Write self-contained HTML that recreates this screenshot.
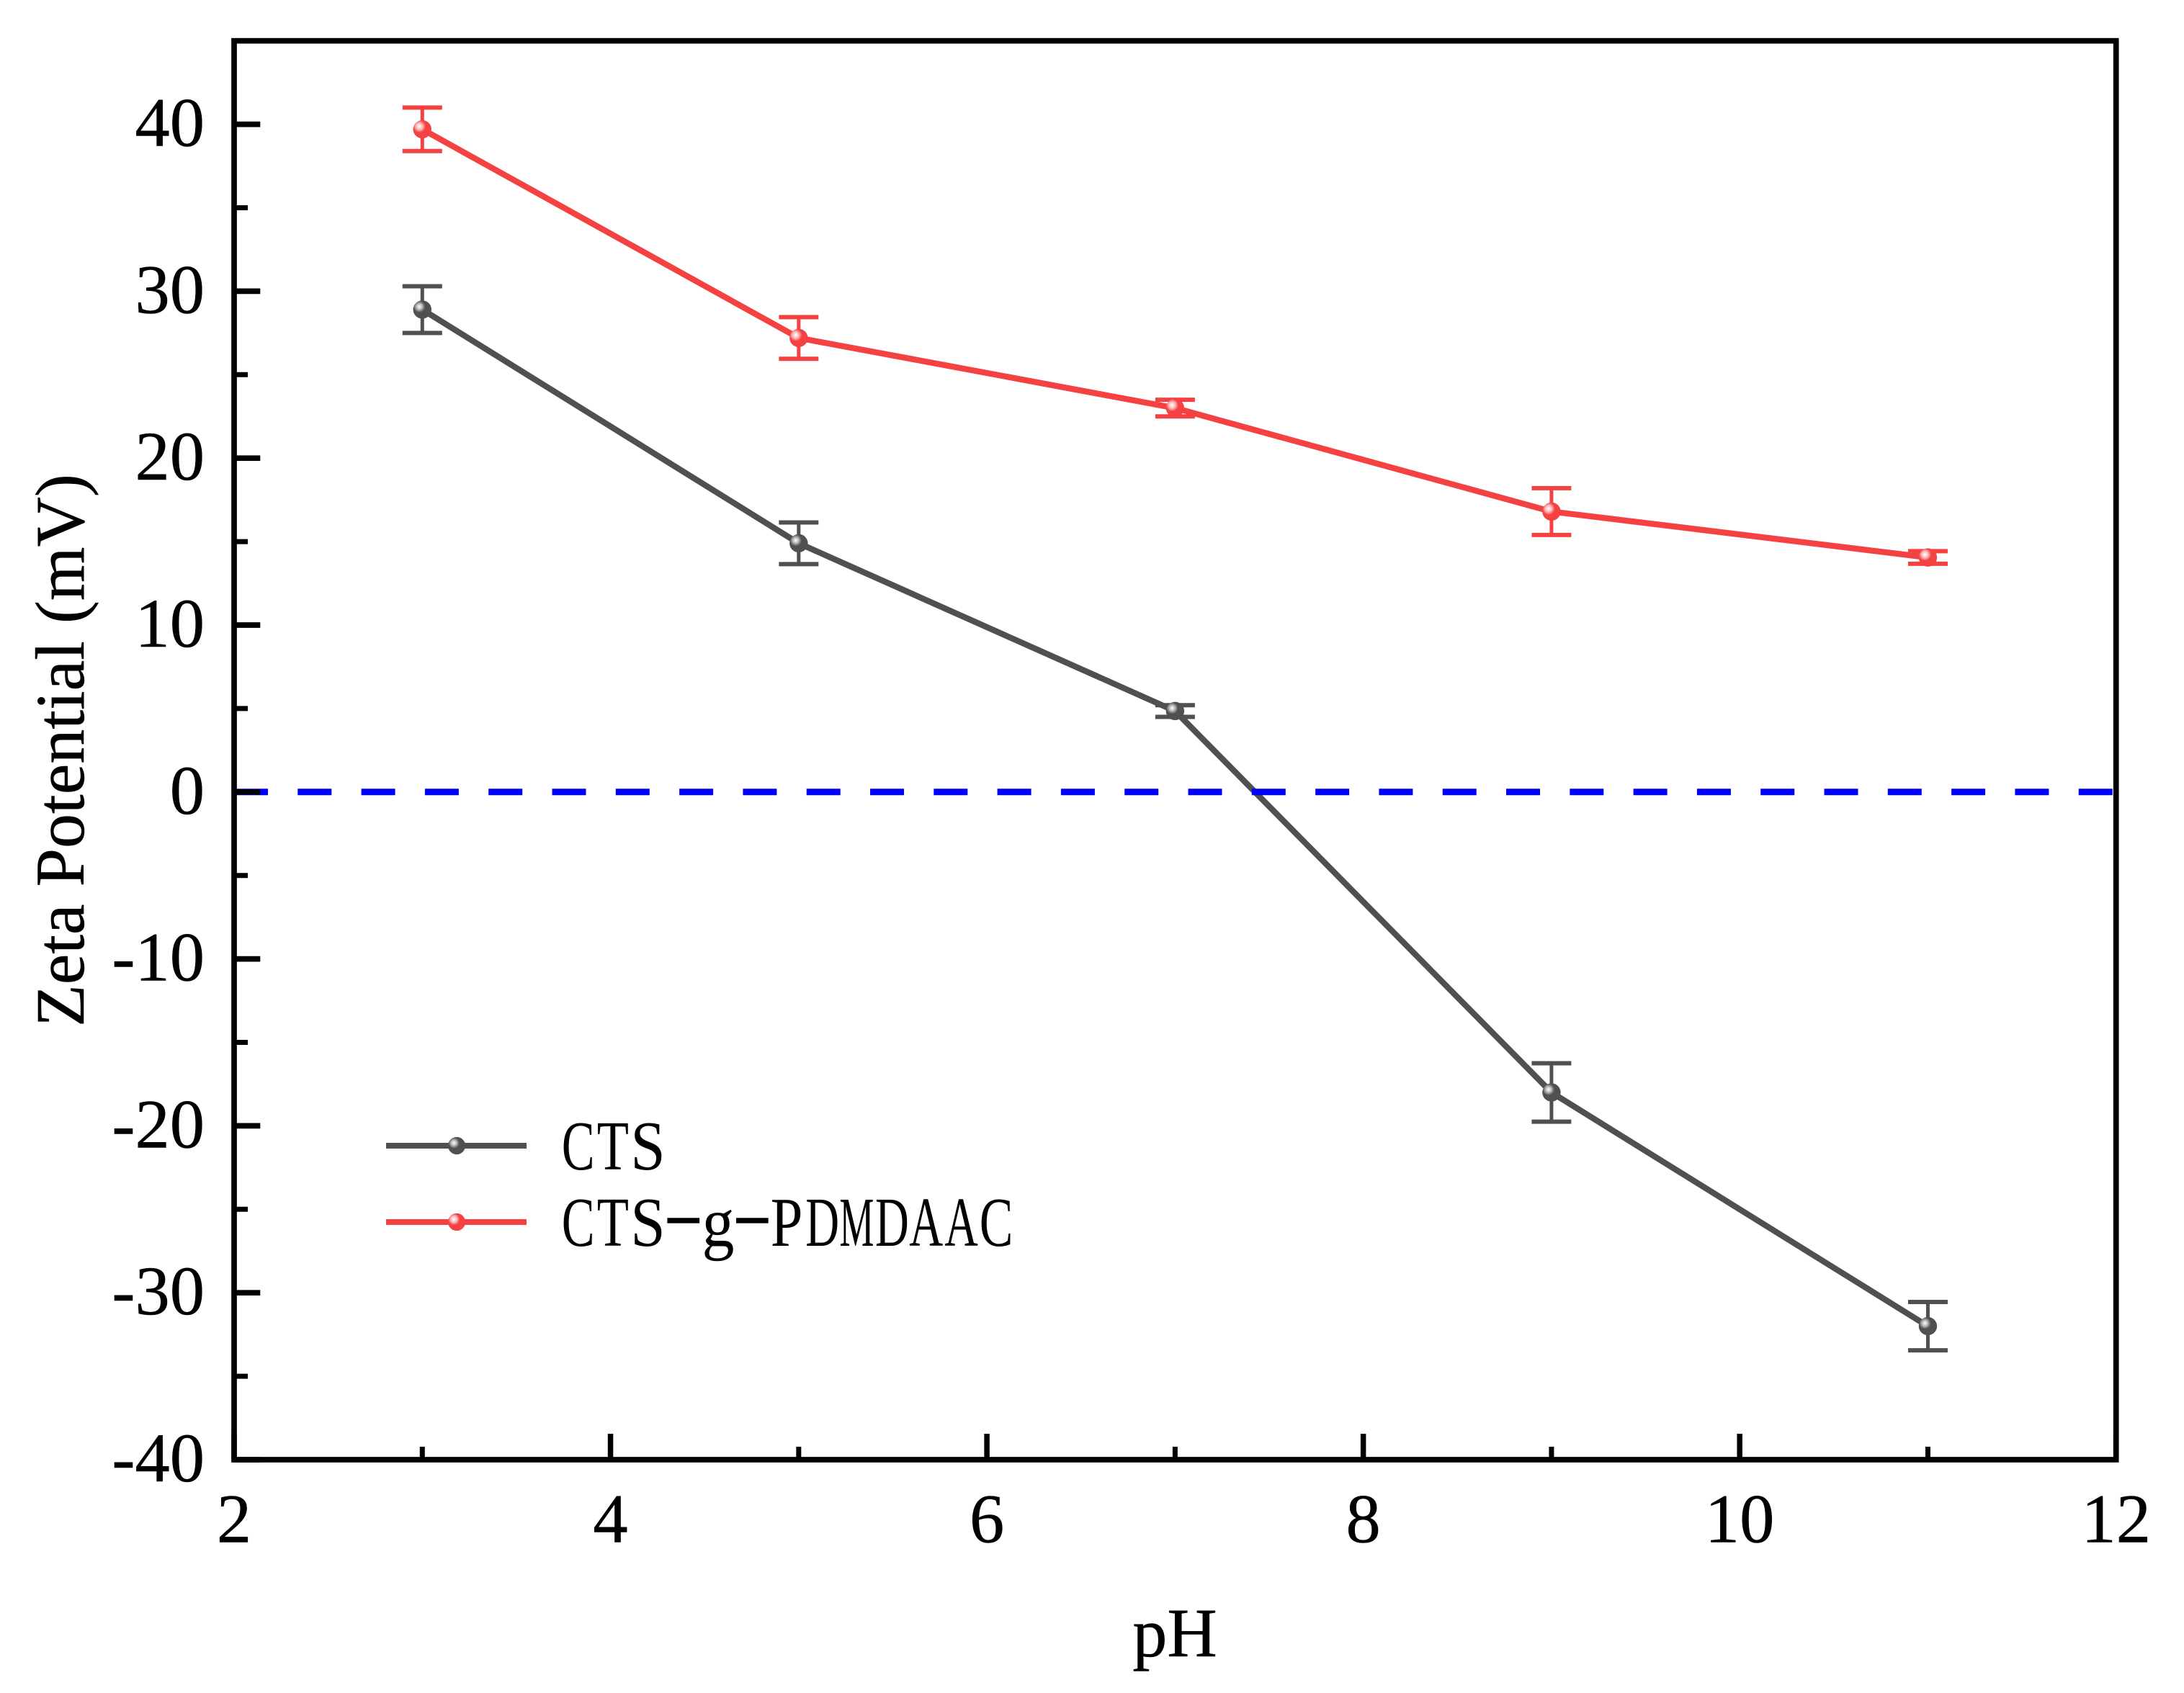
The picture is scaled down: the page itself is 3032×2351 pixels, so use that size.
<!DOCTYPE html>
<html lang="en">
<head>
<meta charset="utf-8">
<title>Zeta Potential vs pH</title>
<style>
html,body{margin:0;padding:0;background:#fff;}
svg{display:block;}
text{font-family:"Liberation Serif",serif;fill:#000;stroke:#000;stroke-width:0.5px;}
text.legend-text{stroke:none;}
</style>
</head>
<body>
<svg id="chart" xmlns="http://www.w3.org/2000/svg" width="3032" height="2351" viewBox="0 0 3032 2351">
  <defs>
    <radialGradient id="shine-grey" cx="0.34" cy="0.34" r="0.32">
      <stop offset="0" stop-color="#ffffff"/>
      <stop offset="0.5" stop-color="#b8b8b8"/>
      <stop offset="1" stop-color="#505050"/>
    </radialGradient>
    <radialGradient id="shine-red" cx="0.34" cy="0.34" r="0.34">
      <stop offset="0" stop-color="#ffffff"/>
      <stop offset="0.55" stop-color="#fab4b4"/>
      <stop offset="1" stop-color="#f44242"/>
    </radialGradient>
  </defs>
  <rect x="0" y="0" width="3032" height="2351" fill="#ffffff"/>
  <g id="plot"></g>
  <g id="axes"></g>
  <text x="1631" y="2300" font-size="96" text-anchor="middle">pH</text>
  <text transform="translate(116,1042) rotate(-90)" font-size="96" text-anchor="middle">Zeta Potential (mV)</text>
  <g>
    <g>
      <line x1="536" x2="731" y1="1591" y2="1591" stroke="#505050" stroke-width="8"/>
      <circle cx="634" cy="1591" r="12" fill="#505050"/>
      <circle cx="634" cy="1591" r="12" fill="url(#shine-grey)"/>
      <text class="legend-text" y="1624" font-size="98"><tspan x="779.8" textLength="45.8" lengthAdjust="spacingAndGlyphs">C</tspan><tspan x="828.8" textLength="44.2" lengthAdjust="spacingAndGlyphs">T</tspan><tspan x="875.4" textLength="48.3" lengthAdjust="spacingAndGlyphs">S</tspan></text>
    </g>
    <g>
      <line x1="536" x2="731" y1="1697" y2="1697" stroke="#f44242" stroke-width="8"/>
      <circle cx="634" cy="1697" r="12" fill="#f44242"/>
      <circle cx="634" cy="1697" r="12" fill="url(#shine-red)"/>
      <text class="legend-text" y="1730" font-size="98"><tspan x="779.8" y="1730" textLength="45.8" lengthAdjust="spacingAndGlyphs">C</tspan><tspan x="828.8" y="1730" textLength="44.2" lengthAdjust="spacingAndGlyphs">T</tspan><tspan x="875.4" y="1730" textLength="48.3" lengthAdjust="spacingAndGlyphs">S</tspan><tspan x="920" y="1718" textLength="57.3" lengthAdjust="spacingAndGlyphs">-</tspan><tspan x="974.5" y="1730" textLength="44.9" lengthAdjust="spacingAndGlyphs">g</tspan><tspan x="1015.6" y="1718" textLength="57.3" lengthAdjust="spacingAndGlyphs">-</tspan><tspan x="1069.7" y="1730" textLength="44.7" lengthAdjust="spacingAndGlyphs">P</tspan><tspan x="1118.3" y="1730" textLength="46.8" lengthAdjust="spacingAndGlyphs">D</tspan><tspan x="1165.4" y="1730" textLength="48" lengthAdjust="spacingAndGlyphs">M</tspan><tspan x="1215" y="1730" textLength="46.8" lengthAdjust="spacingAndGlyphs">D</tspan><tspan x="1262.3" y="1730" textLength="47" lengthAdjust="spacingAndGlyphs">A</tspan><tspan x="1311.3" y="1730" textLength="46.5" lengthAdjust="spacingAndGlyphs">A</tspan><tspan x="1359.7" y="1730" textLength="46.6" lengthAdjust="spacingAndGlyphs">C</tspan></text>
    </g>
  </g>
</svg>
<script>
const phValues = [3, 5, 7, 9, 11];
const ctsValues = [28.9, 14.9, 4.85, -18.0, -32.0];
const ctsErrors = [1.4, 1.25, 0.35, 1.75, 1.45];
const pdmdaacValues = [39.7, 27.2, 23.0, 16.8, 14.05];
const pdmdaacErrors = [1.3, 1.25, 0.5, 1.4, 0.38];
const xMajorTickLabels = [2, 4, 6, 8, 10, 12];
const xMinorTicks = [3, 5, 7, 9, 11];
const yMajorTickLabels = [40, 30, 20, 10, 0, -10, -20, -30, -40];
const yMinorTicks = [35, 25, 15, 5, -5, -15, -25, -35];
const referenceLevel = [0];

const X_LEFT = 325, X_RIGHT = 2937.7, X_MIN = 2, X_MAX = 12;
const Y_TOP = 56.7, Y_BOTTOM = 2027, Y_MIN = -40, Y_MAX = 45;
const xScale = v => X_LEFT + (v - X_MIN) / (X_MAX - X_MIN) * (X_RIGHT - X_LEFT);
const yScale = v => Y_BOTTOM - (v - Y_MIN) / (Y_MAX - Y_MIN) * (Y_BOTTOM - Y_TOP);

const NS = 'http://www.w3.org/2000/svg';
const plot = document.getElementById('plot');
const axes = document.getElementById('axes');
function mk(tag, parent, attrs) {
  const el = document.createElementNS(NS, tag);
  for (const k in attrs) el.setAttribute(k, attrs[k]);
  parent.appendChild(el);
  return el;
}

function drawSeries(key, xs, ys, errs, color, shine) {
  const group = mk('g', plot, {});
  
  
  xs.forEach((x, i) => {
    const px = xScale(x);
    const top = yScale(ys[i] + errs[i]);
    const bot = yScale(ys[i] - errs[i]);
    const stem = mk('line', group, {x1: px, x2: px, y1: top, y2: bot, stroke: color, 'stroke-width': 5});
    
    
    const capTop = mk('line', group, {x1: px - 27.5, x2: px + 27.5, y1: top, y2: top, stroke: color, 'stroke-width': 6});
    
    
    const capBot = mk('line', group, {x1: px - 27.5, x2: px + 27.5, y1: bot, y2: bot, stroke: color, 'stroke-width': 6});
    
    
  });
  const pts = xs.map((x, i) => xScale(x) + ',' + yScale(ys[i])).join(' ');
  const line = mk('polyline', group, {points: pts, fill: 'none', stroke: color, 'stroke-width': 8.3, 'stroke-linejoin': 'round'});
  
  
  xs.forEach((x, i) => {
    const dot = mk('circle', group, {cx: xScale(x), cy: yScale(ys[i]), r: 12.7, fill: shine});
    
    
  });
}
drawSeries('cts', phValues, ctsValues, ctsErrors, '#505050', 'url(#shine-grey)');
drawSeries('cts-g-pdmdaac', phValues, pdmdaacValues, pdmdaacErrors, '#f44242', 'url(#shine-red)');

referenceLevel.forEach(v => {
  const ref = mk('line', plot, {x1: X_LEFT, x2: X_RIGHT, y1: yScale(v), y2: yScale(v), stroke: '#0000ff', 'stroke-width': 9, 'stroke-dasharray': '47 41.3'});
  
  
});

const frame = mk('rect', axes, {x: X_LEFT, y: Y_TOP, width: X_RIGHT - X_LEFT, height: Y_BOTTOM - Y_TOP, fill: 'none', stroke: '#000', 'stroke-width': 7.7});



xMajorTickLabels.forEach(v => {
  const px = xScale(v);
  const t = mk('line', axes, {x1: px, x2: px, y1: Y_BOTTOM, y2: Y_BOTTOM - 36, stroke: '#000', 'stroke-width': 7.5});
  
  
  const l = mk('text', axes, {x: px, y: 2141.5, 'font-size': 96.5, 'text-anchor': 'middle'});
  
  
  l.textContent = v;
});
xMinorTicks.forEach(v => {
  const px = xScale(v);
  const t = mk('line', axes, {x1: px, x2: px, y1: Y_BOTTOM, y2: Y_BOTTOM - 18, stroke: '#000', 'stroke-width': 7});
  
  
});
yMajorTickLabels.forEach(v => {
  const py = yScale(v);
  const t = mk('line', axes, {x1: X_LEFT, x2: X_LEFT + 36.3, y1: py, y2: py, stroke: '#000', 'stroke-width': 7.7});
  
  
  const l = mk('text', axes, {x: 284, y: py + 30, 'font-size': 96.5, 'text-anchor': 'end'});
  
  
  l.textContent = v;
});
yMinorTicks.forEach(v => {
  const py = yScale(v);
  const t = mk('line', axes, {x1: X_LEFT, x2: X_LEFT + 19, y1: py, y2: py, stroke: '#000', 'stroke-width': 7});
  
  
});
</script>
</body>
</html>
